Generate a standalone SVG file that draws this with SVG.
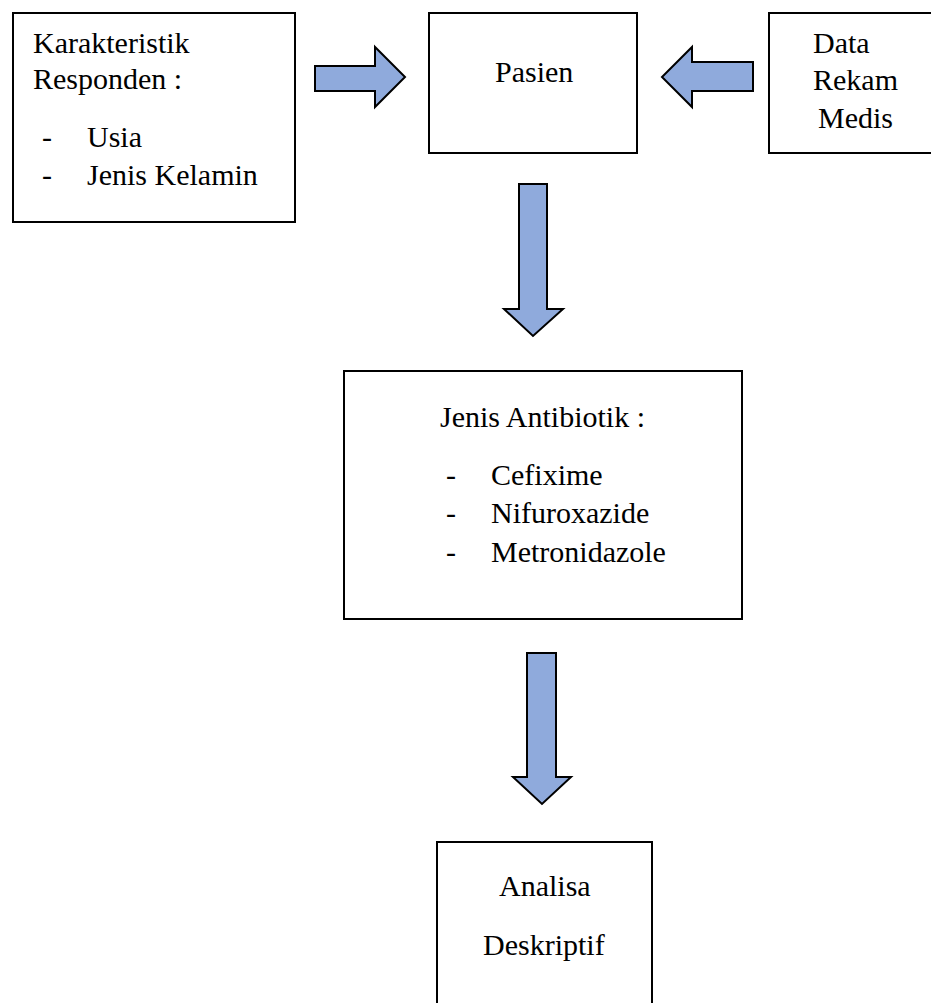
<svg xmlns="http://www.w3.org/2000/svg" width="931" height="1003" viewBox="0 0 931 1003">
<style>
.box{fill:#fff;stroke:#000;stroke-width:2}
.arr{fill:#8FAADC;stroke:#000;stroke-width:2;stroke-linejoin:miter}
text{font-family:'Liberation Serif','DejaVu Serif',serif;font-size:30px;fill:#000}
</style>
<rect width="931" height="1003" fill="#fff"/>
<g id="karakteristik">
<rect class="box" x="13" y="13" width="282" height="209"/>
<text x="33" y="53">Karakteristik</text>
<text x="33" y="89">Responden :</text>
<text x="42" y="147">-</text><text x="87" y="147">Usia</text>
<text x="42" y="185">-</text><text x="87" y="185">Jenis Kelamin</text>
</g>
<g id="pasien">
<rect class="box" x="429" y="13" width="208" height="140"/>
<text x="495" y="82">Pasien</text>
</g>
<g id="rekam-medis">
<rect class="box" x="769" y="13" width="170" height="140"/>
<text x="813" y="53">Data</text>
<text x="813" y="90">Rekam</text>
<text x="818" y="128">Medis</text>
</g>
<g id="antibiotik">
<rect class="box" x="344" y="371" width="398" height="248"/>
<text x="440" y="427">Jenis Antibiotik :</text>
<text x="446" y="485">-</text><text x="491" y="485">Cefixime</text>
<text x="446" y="523">-</text><text x="491" y="523">Nifuroxazide</text>
<text x="446" y="562">-</text><text x="491" y="562">Metronidazole</text>
</g>
<g id="analisa">
<rect class="box" x="437" y="842" width="215" height="180"/>
<text x="499" y="896">Analisa</text>
<text x="483" y="955">Deskriptif</text>
</g>
<g id="connectors">
<polygon class="arr" points="315,66 375,66 375,47 405,77 375,107 375,91 315,91"/>
<polygon class="arr" points="753,62 692,62 692,47 662,77 692,107 692,91 753,91"/>
<polygon class="arr" points="519,184 547,184 547,309 563,309 533,336 504,309 519,309"/>
<polygon class="arr" points="527,653 556,653 556,777 571,777 542,804 513,777 527,777"/>
</g>
</svg>
